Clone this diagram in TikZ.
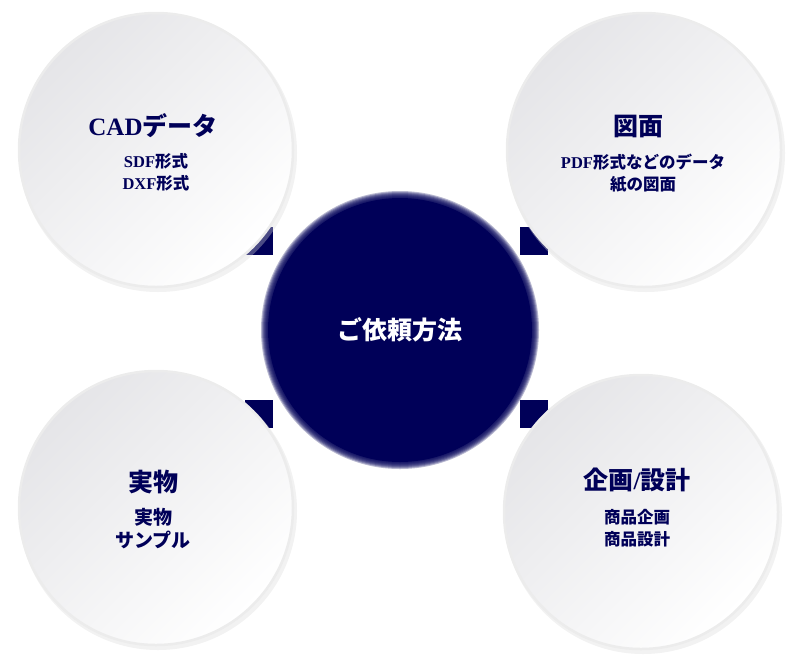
\documentclass[tikz,border=0pt]{standalone}
\usepackage{fontspec}
\setmainfont{Liberation Serif}
\newfontfamily\jpfont{Noto Sans CJK JP}
\newcommand{\jp}[1]{{\jpfont #1}}
\usetikzlibrary{positioning}
\definecolor{navy}{RGB}{0,0,88}
\definecolor{disclight}{RGB}{255,255,255}
\definecolor{discdark}{RGB}{229,229,232}
\tikzset{
  disc/.style = {circle, minimum size=274pt, inner sep=0pt, left color=discdark, right color=disclight, shading angle=45, draw=gray!15, line width=2.5pt},
  hub/.style = {circle, minimum size=264pt, inner sep=0pt, fill=navy, text=white, font=\bfseries\fontsize{25}{30}\selectfont},
  title/.style = {text=navy, font=\bfseries\fontsize{25}{30}\selectfont, inner sep=0pt},
  sub/.style = {text=navy, font=\bfseries\fontsize{16.5}{22}\selectfont, align=center, inner sep=0pt}
}

\begin{document}
\begin{tikzpicture}[x=1pt,y=-1pt]
            \useasboundingbox (0,0) rectangle (800,665);

            % corner marks under the discs
            \fill [navy] (245,227) rectangle (273,255);
            \fill [navy] (520,227) rectangle (548,255);
            \fill [navy] (245,400) rectangle (273,428);
            \fill [navy] (520,400) rectangle (548,428);

            % soft shadows
            \foreach \x/\y in {156/150, 644/150, 156/508, 641/512}{
                \fill [gray!30, opacity=0.35] (\x+2,\y+3) circle (139);
            }

            \node [disc] (cad)    at (156,150) {};
            \node [disc] (zumen)  at (644,150) {};
            \node [disc] (jitsu)  at (156,508) {};
            \node [disc] (kikaku) at (641,512) {};

            % fuzzy rim of the hub
            \foreach \r in {133, 134, ..., 139}{
                \fill [navy, opacity=0.28] (400,330) circle (\r);
            }
            \node [hub] (irai) at (400,330) {\jp{ご依頼方法}};

            \node [title] (cadt)    at (153,126) {CAD\jp{データ}};
            \node [sub]   (cads)    at (156,172) {SDF\jp{形式}\\DXF\jp{形式}};

            \node [title] (zument)  at (638,127) {\jp{図面}};
            \node [sub]   (zumens)  at (643,173) {PDF\jp{形式などのデータ}\\\jp{紙の図面}};

            \node [title] (jitsut)  at (153,482) {\jp{実物}};
            \node [sub, font=\bfseries\fontsize{19}{23}\selectfont] (jitsus) at (153,529) {\jp{実物}\\\jp{サンプル}};

            \node [title] (kikakut) at (637,480) {\jp{企画}/\jp{設計}};
            \node [sub]   (kikakus) at (637,528) {\jp{商品企画}\\\jp{商品設計}};
        \end{tikzpicture}
\end{document}
